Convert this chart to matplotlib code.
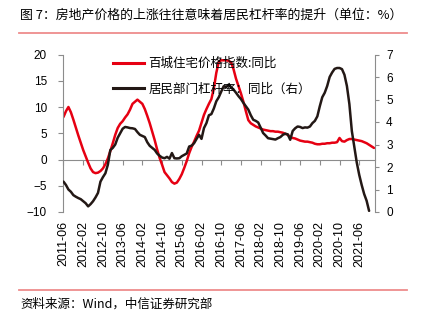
import numpy as np
import pandas as pd
import matplotlib
matplotlib.use("Agg")
import matplotlib.pyplot as plt
from matplotlib.lines import Line2D

#==========
# 1. DATA
#==========
# monthly, 2011-06 onwards
price_yoy = [
    8.1, 9.2, 10.0, 9.0, 7.6, 6.1, 4.6, 3.2, 1.8, 0.6,
    -0.6, -1.7, -2.4, -2.6, -2.5, -2.2, -1.7, -0.9, 0.2, 1.6,
    3.1, 4.7, 6.0, 6.8, 7.3, 8.0, 8.6, 9.5, 10.6, 11.0,
    11.4, 11.0, 10.6, 9.6, 8.3, 6.9, 5.3, 3.7, 1.9, 0.3,
    -1.0, -2.4, -3.0, -3.6, -4.3, -4.6, -4.4, -3.7, -2.8, -1.6,
    -0.3, 1.2, 2.4, 3.4, 4.5, 5.5, 7.0, 8.5, 9.6, 10.6,
    11.5, 13.5, 16.5, 18.6, 18.9, 18.9, 18.9, 18.8, 18.5, 17.2,
    15.4, 14.0, 12.6, 11.0, 9.2, 7.5, 6.9, 6.6, 6.3, 6.1,
    5.9, 5.7, 5.6, 5.5, 5.4, 5.4, 5.3, 5.3, 5.2, 5.1,
    4.9, 4.7, 4.3, 4.1, 4.0, 3.8, 3.6, 3.5, 3.4, 3.4,
    3.3, 3.2, 3.0, 2.9, 2.9, 3.0, 3.0, 3.1, 3.1, 3.2,
    3.2, 3.3, 4.1, 3.5, 3.4, 3.7, 3.9, 3.9, 3.8, 3.7,
    3.6, 3.5, 3.3, 3.1, 2.8, 2.5, 2.2,
]

leverage_yoy = [
    1.35, 1.2, 1.0, 0.9, 0.75, 0.68, 0.62, 0.57, 0.48, 0.39,
    0.25, 0.35, 0.48, 0.65, 0.85, 1.35, 1.55, 1.72, 2.1, 2.75,
    2.85, 3.0, 3.3, 3.5, 3.7, 3.78, 3.76, 3.73, 3.72, 3.69,
    3.55, 3.43, 3.38, 3.33, 3.1, 2.94, 2.85, 2.76, 2.6, 2.5,
    2.42, 2.39, 2.45, 2.37, 2.62, 2.39, 2.38, 2.39, 2.48, 2.54,
    2.6, 2.91, 2.95, 3.06, 3.25, 3.43, 3.25, 3.73, 3.95, 4.3,
    4.35, 4.6, 4.92, 5.1, 5.35, 5.59, 5.55, 5.66, 5.55, 5.44,
    5.3, 5.15, 5.02, 4.85, 4.7, 4.55, 4.3, 4.1, 4.05, 3.98,
    3.75, 3.51, 3.4, 3.28, 3.26, 3.24, 3.22, 3.28, 3.33, 3.43,
    3.48, 3.45, 3.21, 3.6, 3.72, 3.8, 3.78, 3.73, 3.76, 3.75,
    3.8, 3.95, 4.05, 4.25, 4.7, 5.1, 5.3, 5.6, 6.0, 6.2,
    6.36, 6.4, 6.4, 6.35, 6.1, 5.6, 4.8, 3.6, 2.9, 2.2,
    1.65, 1.2, 0.8, 0.5, 0.05,
]

months = pd.period_range("2011-06", periods=len(price_yoy), freq="M").strftime("%Y-%m")
tick_idx = list(range(0, len(months), 8))
tick_labels = [months[i] for i in tick_idx]

title = "图 7：房地产价格的上涨往往意味着居民杠杆率的提升（单位：%）"
source = "资料来源：Wind，中信证券研究部"
label_price = "百城住宅价格指数:同比"
label_lev = "居民部门杠杆率：同比（右）"

#==========
# 2. STYLE
#==========
RED = "#E60012"
BLACK = "#231815"
GREY = "#8C8C8C"
PINK = "#EE8C8C"
CJK = ["Noto Sans CJK SC", "DejaVu Sans"]
NUM = ["Liberation Sans", "DejaVu Sans"]

plt.rcParams["font.family"] = NUM

fig = plt.figure(figsize=(4.22, 3.22), dpi=100)
ax = fig.add_axes([63 / 422, 1 - 212 / 322, 312 / 422, 157.5 / 322])
ax2 = ax.twinx()

x_price = np.arange(len(price_yoy))
x_lev = np.arange(len(leverage_yoy))
ax.plot(x_price, price_yoy, color=RED, lw=1.8, solid_capstyle="round")
ax2.plot(x_lev, leverage_yoy, color=BLACK, lw=1.8, solid_capstyle="round")

ax.set_ylim(-10, 20)
ax.set_yticks(np.arange(-10, 21, 5))
ax2.set_ylim(0, 7)
ax2.set_yticks(np.arange(0, 8, 1))
ax.set_xlim(-0.2, 126.4)

for a in (ax, ax2):
    for s in ("top", "bottom"):
        a.spines[s].set_visible(False)
ax.spines["right"].set_visible(False)
ax2.spines["left"].set_visible(False)
ax.spines["left"].set_color(GREY)
ax2.spines["right"].set_color(GREY)
ax.spines["left"].set_linewidth(0.8)
ax2.spines["right"].set_linewidth(0.8)

ax.tick_params(axis="y", colors=GREY, labelcolor="black", length=3.5, width=0.8,
               labelsize=8.5, pad=8)
ax2.tick_params(axis="y", colors=GREY, labelcolor="black", length=3, width=0.8,
                labelsize=8.5, pad=5)

# x labels at the bottom, ticks on the zero line
ax.set_xticks(tick_idx)
ax.set_xticklabels(tick_labels, rotation=90, fontsize=9)
ax.tick_params(axis="x", length=0, pad=6.5)

zero = ax.secondary_xaxis(1 / 3)
zero.set_xticks(tick_idx)
zero.set_xticklabels([])
zero.spines["bottom"].set_visible(True)
zero.spines["bottom"].set_color(GREY)
zero.spines["bottom"].set_linewidth(0.8)
zero.tick_params(axis="x", direction="out", length=3.5, width=0.8, colors=GREY)

handles = [Line2D([], [], color=RED, lw=2.2), Line2D([], [], color=BLACK, lw=2.2)]
leg = ax2.legend(handles, [label_price, label_lev], loc="upper left",
                 bbox_to_anchor=(113 / 422, 1 - 57 / 322), bbox_transform=fig.transFigure,
                 frameon=False, prop={"family": CJK, "size": 9},
                 handlelength=2.5, handletextpad=0.35, labelspacing=1.0,
                 borderpad=0, borderaxespad=0)

#===================
# 3. TITLE / SOURCE
#===================
fig.text(20 / 422, 1 - 15 / 322, title, fontsize=9.3, family=CJK, va="center", ha="left")
fig.add_artist(Line2D([19 / 422, 407 / 422], [1 - 33 / 322, 1 - 33 / 322],
                      color=PINK, lw=1.3, transform=fig.transFigure))
fig.add_artist(Line2D([19 / 422, 407 / 422], [1 - 289.5 / 322, 1 - 289.5 / 322],
                      color=PINK, lw=1.3, transform=fig.transFigure))
fig.text(20 / 422, 1 - 304 / 322, source, fontsize=9, family=CJK, va="center", ha="left")

fig.savefig("out.png", dpi=100)
